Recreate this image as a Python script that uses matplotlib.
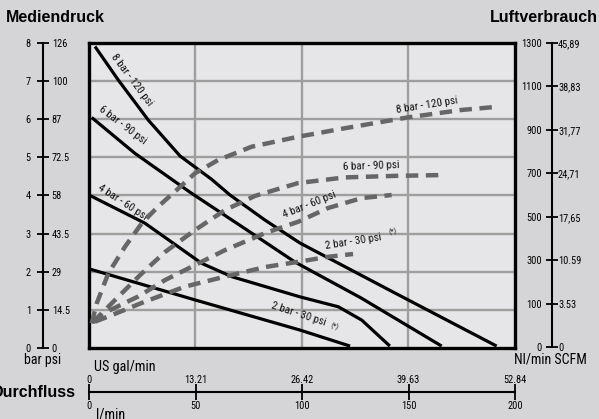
import numpy as np
import matplotlib
matplotlib.use('Agg')
import matplotlib.pyplot as plt
from matplotlib import font_manager

# ---- data ----
# solid lines: flow (l/min) -> pressure (bar)
flow_8 = [3.05, 14.0, 28.1, 43.0, 57.8, 66.4, 82.9, 99.3, 143.9, 191.6]
bar_8 = [7.90, 7.02, 5.97, 5.03, 4.42, 4.01, 3.35, 2.75, 1.44, 0.05]
flow_6 = [1.5, 21.8, 47.7, 76.6, 97, 128, 165.8]
bar_6 = [6.04, 5.1, 4.08, 3.01, 2.25, 1.31, 0.05]
flow_4 = [0.2, 26.5, 53.1, 67.2, 99.3, 117.3, 128.3, 141.5]
bar_4 = [4.01, 3.27, 2.22, 1.87, 1.34, 1.08, 0.73, 0.05]
flow_2 = [0.5, 50, 99.3, 122.8]
bar_2 = [2.07, 1.26, 0.47, 0.05]

# dashed lines: flow (l/min) -> air consumption (Nl/min)
aflow_8 = [1.5, 3.85, 9.3, 17.1, 25.0, 32.6, 41.4, 50, 60.9, 76.6, 98.5, 120.4, 150.1, 175.2, 192.4]
air_8 = [11, 103, 241, 363, 471, 547, 624, 701, 762, 823, 869, 908, 958, 992, 1007]
aflow_6 = [2.1, 12.4, 24.2, 35.9, 50, 64.1, 78.2, 98.4, 120.4, 143.9, 167.4]
air_6 = [17, 118, 233, 339, 440, 532, 597, 656, 682, 689, 693]
aflow_4 = [2.1, 10.1, 23.2, 35.9, 45.3, 64.1, 82.9, 98.4, 112.4, 128.3, 142.3]
air_4 = [17, 72, 134, 210, 256, 348, 426, 478, 541, 587, 601]
aflow_2 = [3.05, 10.9, 26.5, 45.3, 64.1, 82.9, 98.4, 112.4, 124.2]
air_2 = [19, 49, 111, 180, 226, 270, 294, 317, 330]

bar_ticks = [0, 1, 2, 3, 4, 5, 6, 7, 8]
psi_labels = ['0', '14.5', '29', '43.5', '58', '72.5', '87', '100', '126']
nl_labels = ['0', '100', '300', '500', '700', '900', '1100', '1300']
scfm_labels = ['0', '3.53', '10.59', '17,65', '24,71', '31,77', '38,83', '45,89']
lmin_ticks = [0, 50, 100, 150, 200]
gal_labels = ['0', '13.21', '26.42', '39.63', '52.84']

# ---- fonts ----
avail = {f.name for f in font_manager.fontManager.ttflist}
fam = next((f for f in ['Liberation Sans Narrow', 'Roboto Condensed', 'Open Sans', 'Liberation Sans']
            if f in avail), 'DejaVu Sans')
plt.rcParams['font.family'] = [fam, 'DejaVu Sans']
title_fam = ['Liberation Sans', 'DejaVu Sans']

W, H = 599, 419
BG = '#d5d5d7'
fig = plt.figure(figsize=(W / 100, H / 100), dpi=100, facecolor=BG)


def fx(px):
    return px / W


def fy(py):
    return 1 - py / H


# main plot box
ax = fig.add_axes([fx(88.5), fy(348), fx(514.5) - fx(88.5), fy(42.7) - fy(348)])
ax.set_facecolor('#e6e6e8')
ax.set_xlim(0, 200)
ax.set_ylim(0, 8)
for v in [50, 100, 150]:
    ax.axvline(v, color='#9e9e9e', lw=1.7, zorder=1)
for v in range(1, 8):
    ax.axhline(v, color='#9e9e9e', lw=1.7, zorder=1)
ax.set_xticks([])
ax.set_yticks([])
for s in ax.spines.values():
    s.set_linewidth(2.4)
    s.set_color('black')
    s.set_zorder(5)

for fl, br in [(flow_8, bar_8), (flow_6, bar_6), (flow_4, bar_4), (flow_2, bar_2)]:
    ax.plot(fl, br, color='black', lw=2.3, solid_capstyle='butt', solid_joinstyle='round', zorder=3)

# dashed curves on a twin scale (Nl/min)
ax2 = ax.twinx()
ax2.set_ylim(-102, 1301)
ax2.axis('off')
for fl, a in [(aflow_8, air_8), (aflow_6, air_6), (aflow_4, air_4), (aflow_2, air_2)]:
    ax2.plot(fl, a, color='#666666', lw=3.2, dashes=(2.8, 1.7), solid_capstyle='butt')

lab = dict(fontsize=8, color='#111111', ha='center', va='center', rotation_mode='anchor')
ast = dict(fontsize=5.5, color='#111111', ha='center', va='center', rotation_mode='anchor')
ax.text(20.3, 7.02, '8 bar - 120 psi', rotation=-53, **lab)
ax.text(16.0, 5.84, '6 bar - 90 psi', rotation=-37, **lab)
ax.text(16.0, 3.83, '4 bar - 60 psi', rotation=-33, **lab)
ax.text(98.5, 0.90, '2 bar - 30 psi', rotation=-18, **lab)
ax.text(115.5, 0.55, '(*)', rotation=-18, **ast)

ax2.text(158.9, 1016, '8 bar - 120 psi', rotation=9, **lab)
ax2.text(132.6, 735, '6 bar - 90 psi', rotation=2, **lab)
ax2.text(103.5, 555, '4 bar - 60 psi', rotation=22, **lab)
ax2.text(124.5, 388, '2 bar - 30 psi', rotation=9, **lab)
ax2.text(142.8, 432, '(*)', rotation=9, **ast)

# left scale: bar / psi
tick_kw = dict(direction='inout', length=9, width=1.3, labelsize=7.5, colors='black')
axl = fig.add_axes([fx(42.7), fy(348), 0.0001, fy(42.7) - fy(348)])
axl.set_ylim(0, 8)
axl.set_yticks(bar_ticks)
axl.set_yticklabels([str(b) for b in bar_ticks])
axl.tick_params(axis='y', pad=4, **tick_kw)
axl.set_xticks([])
for k in ['top', 'bottom', 'right']:
    axl.spines[k].set_visible(False)
axl.spines['left'].set_linewidth(1.5)
axl.patch.set_visible(False)
axl2 = axl.twinx()
axl2.set_ylim(0, 8)
axl2.set_yticks(bar_ticks)
axl2.set_yticklabels(psi_labels)
axl2.tick_params(axis='y', length=0, labelsize=7.5, pad=6.5)
for s in axl2.spines.values():
    s.set_visible(False)

# right scale: Nl/min / SCFM
pos = list(range(len(nl_labels)))
axr = fig.add_axes([fx(551.7), fy(347), 0.0001, fy(43) - fy(347)])
axr.set_ylim(0, len(nl_labels) - 1)
axr.set_yticks(pos)
axr.set_yticklabels(nl_labels)
axr.tick_params(axis='y', pad=2.5, **tick_kw)
axr.set_xticks([])
for k in ['top', 'bottom', 'right']:
    axr.spines[k].set_visible(False)
axr.spines['left'].set_linewidth(1.5)
axr.patch.set_visible(False)
axr2 = axr.twinx()
axr2.set_ylim(0, len(nl_labels) - 1)
axr2.set_yticks(pos)
axr2.set_yticklabels(scfm_labels)
axr2.tick_params(axis='y', length=0, labelsize=7.5, pad=4.5)
for s in axr2.spines.values():
    s.set_visible(False)

# bottom scale: l/min / US gal/min
axb = fig.add_axes([fx(89), fy(391.7), fx(515) - fx(89), 0.0001])
axb.set_xlim(0, 200)
axb.set_xticks(lmin_ticks)
axb.set_xticklabels([str(t) for t in lmin_ticks])
axb.tick_params(axis='x', direction='inout', length=11, width=1.3, labelsize=7.5, pad=1)
axb.set_yticks([])
for k in ['top', 'left', 'right']:
    axb.spines[k].set_visible(False)
axb.spines['bottom'].set_linewidth(1.5)
axb.patch.set_visible(False)
axb2 = axb.twiny()
axb2.set_xlim(0, 200)
axb2.set_xticks(lmin_ticks)
axb2.set_xticklabels(gal_labels)
axb2.tick_params(axis='x', length=0, labelsize=7.5, pad=5)
for s in axb2.spines.values():
    s.set_visible(False)

# titles and unit labels
fig.text(fx(6), fy(18), 'Mediendruck', fontsize=11.5, fontweight='bold', va='center', ha='left',
         family=title_fam)
fig.text(fx(598), fy(18), 'Luftverbrauch', fontsize=11.5, fontweight='bold', va='center', ha='right',
         family=title_fam)
fig.text(fx(76), fy(392), 'Durchfluss', fontsize=11.5, fontweight='bold', va='center', ha='right',
         family=title_fam)
fig.text(fx(43), fy(359.5), 'bar psi', fontsize=10, va='center', ha='center')
fig.text(fx(550), fy(359.5), 'Nl/min SCFM', fontsize=10, va='center', ha='center')
fig.text(fx(94), fy(367), 'US gal/min', fontsize=10.3, va='center', ha='left')
fig.text(fx(96), fy(414), 'l/min', fontsize=10.3, va='center', ha='left')

fig.savefig('out.png', dpi=100, facecolor=BG)
